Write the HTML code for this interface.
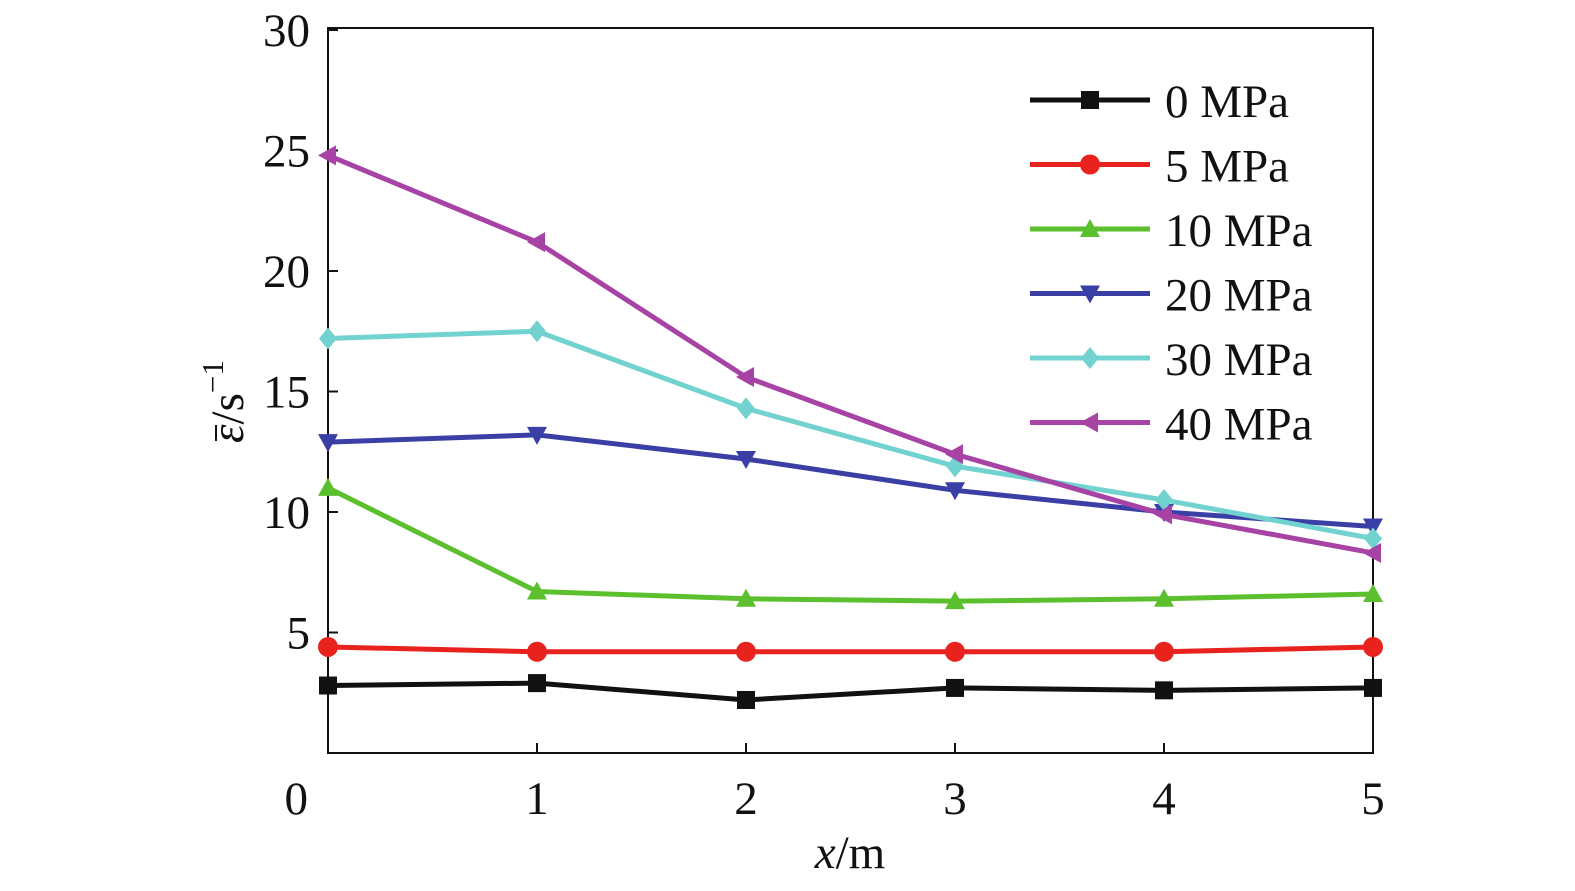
<!DOCTYPE html>
<html><head><meta charset="utf-8"><style>
html,body{margin:0;padding:0;background:#fff;overflow:hidden;}
svg{display:block;}
svg text{font-family:"Liberation Serif",serif;fill:#111;}
</style></head><body>
<svg id="chart" width="1575" height="891" viewBox="0 0 1575 891" xmlns="http://www.w3.org/2000/svg"></svg>
<script>
const xValues=[0,1,2,3,4,5];
const seriesNames=["0 MPa","5 MPa","10 MPa","20 MPa","30 MPa","40 MPa"];
const s0=[2.8,2.9,2.2,2.7,2.6,2.7];
const s5=[4.4,4.2,4.2,4.2,4.2,4.4];
const s10=[11.0,6.7,6.4,6.3,6.4,6.6];
const s20=[12.9,13.2,12.2,10.9,10.0,9.4];
const s30=[17.2,17.5,14.3,11.9,10.5,8.9];
const s40=[24.8,21.2,15.6,12.4,9.9,8.3];
const yTicks=[5,10,15,20,25,30];
const xTicks=[1,2,3,4,5];
const NS="http://www.w3.org/2000/svg";
const svg=document.getElementById('chart');
const L=328,R=1373,T=30,B=753;
const xs=v=>L+(v-0)/5*(R-L);
const ys=v=>B-(v/30)*(B-T);
function mk(tag,at,parent){const e=document.createElementNS(NS,tag);for(const k in at)e.setAttribute(k,at[k]);(parent||svg).appendChild(e);return e;}
let box=mk('rect',{x:L,y:T-2,width:R-L,height:B-T+2,fill:'none',stroke:'#111','stroke-width':2});


yTicks.forEach(t=>{
 const y=ys(t);
 const ln=mk('line',{x1:L,x2:L+10,y1:y,y2:y,stroke:'#111','stroke-width':2});
 
 
 const tx=mk('text',{x:L-18,y:y+16,'text-anchor':'end','font-size':47});
 tx.textContent=t;
 
 
});
let z=mk('text',{x:308,y:814,'text-anchor':'end','font-size':47});z.textContent='0';


xTicks.forEach(t=>{
 const x=xs(t);
 const ln=mk('line',{x1:x,x2:x,y1:B,y2:B-10,stroke:'#111','stroke-width':2});
 
 
 const tx=mk('text',{x:x,y:814,'text-anchor':'middle','font-size':47});
 tx.textContent=t;
 
 
});
let xt=mk('text',{x:850,y:868,'text-anchor':'middle','font-size':47});
xt.innerHTML='<tspan font-style="italic">x</tspan>/m';


let yg=mk('g',{transform:'translate(243,395) rotate(-90)'});


let yt=mk('text',{x:-48,y:0,'text-anchor':'start','font-size':47},yg);
yt.innerHTML='<tspan font-style="italic">ε</tspan>/s<tspan dy="-20" font-size="31">−1</tspan>';
mk('line',{x1:-46,x2:-30,y1:-27,y2:-27,stroke:'#111','stroke-width':2},yg);
const colors=['#111111','#e8231d','#5cbf2e','#3a3fa6','#72d2cf','#a843a6'];
const data=[s0,s5,s10,s20,s30,s40];
const shapes=['square','circle','up','down','diamond','left'];
function marker(shape,x,y,c,parent){
 const r=9;let e;
 if(shape==='square')e=mk('rect',{x:x-r,y:y-r,width:2*r,height:2*r,fill:c},parent);
 else if(shape==='circle')e=mk('circle',{cx:x,cy:y,r:r+1,fill:c},parent);
 else{let p;
  if(shape==='up')p=[[x,y-r-1],[x+r+1,y+r-1],[x-r-1,y+r-1]];
  else if(shape==='down')p=[[x,y+r+1],[x+r+1,y-r+1],[x-r-1,y-r+1]];
  else if(shape==='diamond')p=[[x,y-r-2],[x+r,y],[x,y+r+2],[x-r,y]];
  else p=[[x-r-1,y],[x+r-1,y-r-1],[x+r-1,y+r+1]];
  e=mk('polygon',{points:p.map(q=>q.join(',')).join(' '),fill:c},parent);}
 return e;
}
data.forEach((d,i)=>{
 const g=mk('g',{});
 
 
 const pl=mk('polyline',{points:d.map((v,j)=>xs(xValues[j])+','+ys(v)).join(' '),fill:'none',stroke:colors[i],'stroke-width':5,'stroke-linejoin':'round'},g);
 
 
 d.forEach((v,j)=>{
  const m=marker(shapes[i],xs(xValues[j]),ys(v),colors[i],g);
  
  
 });
 const ly=100+i*64.5;
 const lg=mk('g',{});
 
 
 mk('line',{x1:1030,x2:1150,y1:ly,y2:ly,stroke:colors[i],'stroke-width':5},lg);
 marker(shapes[i],1090,ly,colors[i],lg);
 const t=mk('text',{x:1165,y:ly+17,'font-size':47},lg);
 t.textContent=seriesNames[i];
});
</script>
</body></html>
